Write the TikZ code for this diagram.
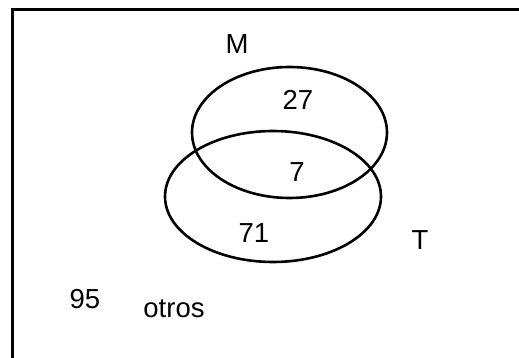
\documentclass[tikz,border=0pt]{standalone}
\usepackage{fontspec}
\setmainfont{Liberation Sans}
\begin{document}
\begin{tikzpicture}[x=1pt,y=-1pt,
  lbl/.style={anchor=base,inner sep=0pt,font=\fontsize{27.5}{32}\selectfont},
  setline/.style={line width=2.6pt}]
\useasboundingbox (0,0) rectangle (519,358);
\clip (0,0) rectangle (519,358);
\draw[line width=3pt] (12.5,9.5) rectangle (540,380);
\draw[setline] (289.5,132.5) ellipse [x radius=97.5, y radius=65.5];
\draw[setline] (273,196.5) ellipse [x radius=108, y radius=65.5];
\node[lbl] (m) at (237,54) {M};
\node[lbl] (t) at (420,249) {T};
\node[lbl] (n27) at (298,110) {27};
\node[lbl] (n7) at (297,182) {7};
\node[lbl] (n71) at (254,242) {71};
\node[lbl] (n95) at (85,308) {95};
\node[lbl] (otros) at (174,317) {otros};
\end{tikzpicture}
\end{document}
